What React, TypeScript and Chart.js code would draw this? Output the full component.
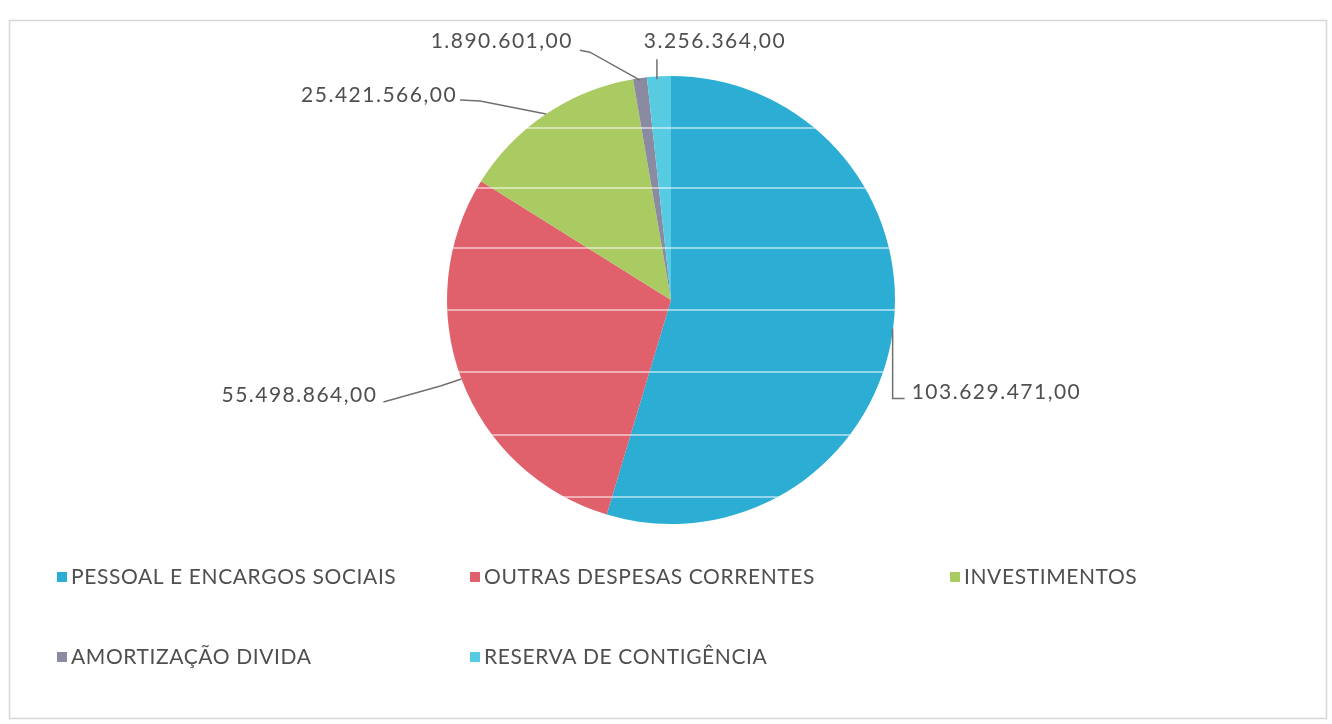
import React, { useEffect, useRef } from "react";
import { Chart, registerables } from "chart.js";

Chart.register(...registerables);

// ---- data ----
const categories = [
  "PESSOAL E ENCARGOS SOCIAIS",
  "OUTRAS DESPESAS CORRENTES",
  "INVESTIMENTOS",
  "AMORTIZAÇÃO DIVIDA",
  "RESERVA DE CONTIGÊNCIA",
];
const values = [103629471, 55498864, 25421566, 1890601, 3256364];
const colors = ["#2badd4", "#e0616c", "#a9cb62", "#8a8aa0", "#56cbe2"];

// ---- layout / style (not data) ----
const W = 1332;
const H = 724;
const FONT_FAMILY = "Lato, 'Open Sans', sans-serif";
const TEXT_COLOR = "#4f4f4f";
const LINE_COLOR = "#707070";

// leader-line points and text anchor, relative to the slice's outer edge at its mid-angle
const labelLayout: { pts: number[][]; text: number[]; align: CanvasTextAlign }[] = [
  { pts: [[0, -4], [0, 66], [12, 66]], text: [19, 60], align: "left" },
  { pts: [[0, 0], [-21, 7], [-78, 23]], text: [-84, 16], align: "right" },
  { pts: [[0, 0], [-66, -13], [-86, -14]], text: [-89, -19], align: "right" },
  { pts: [[0, 2], [-50, -26], [-60, -28]], text: [-67, -37], align: "right" },
  { pts: [[-2, 3], [-2, -17]], text: [56, -35], align: "center" },
];
const legendPos = [
  [57, 577],
  [470, 577],
  [950, 577],
  [57, 657],
  [470, 657],
];
const stripeOffsets = [-172, -112, -52, 10, 72, 135, 197];

function formatBR(v: number): string {
  const s = Math.round(v).toString();
  let out = "";
  for (let i = 0; i < s.length; i++) {
    if (i > 0 && (s.length - i) % 3 === 0) out += ".";
    out += s[i];
  }
  return out + ",00";
}

const framePlugin = {
  id: "frame",
  beforeDraw(chart: any) {
    const ctx = chart.ctx;
    ctx.save();
    ctx.fillStyle = "#ffffff";
    ctx.fillRect(0, 0, W, H);
    ctx.strokeStyle = "#d6d6d6";
    ctx.lineWidth = 1.5;
    ctx.strokeRect(9.5, 20.5, 1317, 698);
    ctx.restore();
  },
};

const stripePlugin = {
  id: "stripes",
  afterDatasetsDraw(chart: any) {
    const arc = chart.getDatasetMeta(0).data[0];
    if (!arc) return;
    const { x, y, outerRadius } = arc.getProps(["x", "y", "outerRadius"], true);
    const ctx = chart.ctx;
    ctx.save();
    ctx.beginPath();
    ctx.arc(x, y, outerRadius, 0, Math.PI * 2);
    ctx.clip();
    ctx.strokeStyle = "rgba(255,255,255,0.5)";
    ctx.lineWidth = 2;
    stripeOffsets.forEach((o) => {
      ctx.beginPath();
      ctx.moveTo(x - outerRadius, y + o);
      ctx.lineTo(x + outerRadius, y + o);
      ctx.stroke();
    });
    ctx.restore();
  },
};

const labelPlugin = {
  id: "valueLabels",
  afterDraw(chart: any) {
    const ctx = chart.ctx;
    const meta = chart.getDatasetMeta(0);
    const data = chart.data.datasets[0].data as number[];
    ctx.save();
    ctx.font = `21px ${FONT_FAMILY}`;
    (ctx as any).letterSpacing = "1.5px";
    ctx.textBaseline = "middle";
    meta.data.forEach((arc: any, i: number) => {
      const p = arc.getProps(["x", "y", "startAngle", "endAngle", "outerRadius"], true);
      const mid = (p.startAngle + p.endAngle) / 2;
      const ex = p.x + Math.cos(mid) * p.outerRadius;
      const ey = p.y + Math.sin(mid) * p.outerRadius;
      const lay = labelLayout[i];
      ctx.strokeStyle = LINE_COLOR;
      ctx.lineWidth = 1.5;
      ctx.beginPath();
      lay.pts.forEach((pt, k) => {
        if (k === 0) ctx.moveTo(ex + pt[0], ey + pt[1]);
        else ctx.lineTo(ex + pt[0], ey + pt[1]);
      });
      ctx.stroke();
      ctx.fillStyle = TEXT_COLOR;
      ctx.textAlign = lay.align;
      ctx.fillText(formatBR(data[i]), ex + lay.text[0], ey + lay.text[1]);
    });
    ctx.restore();
  },
};

const legendPlugin = {
  id: "gridLegend",
  afterDraw(chart: any) {
    const ctx = chart.ctx;
    const labels = chart.data.labels as string[];
    const bg = chart.data.datasets[0].backgroundColor as string[];
    ctx.save();
    ctx.font = `21px ${FONT_FAMILY}`;
    (ctx as any).letterSpacing = "0.6px";
    ctx.textBaseline = "middle";
    ctx.textAlign = "left";
    labels.forEach((lab, i) => {
      const [lx, ly] = legendPos[i];
      ctx.fillStyle = bg[i];
      ctx.fillRect(lx, ly - 5, 10, 10);
      ctx.fillStyle = TEXT_COLOR;
      ctx.fillText(lab, lx + 14, ly);
    });
    ctx.restore();
  },
};

export default function App() {
  const ref = useRef<HTMLCanvasElement | null>(null);
  useEffect(() => {
    if (!ref.current) return;
    const chart = new Chart(ref.current, {
      type: "pie",
      data: {
        labels: categories,
        datasets: [
          {
            data: values,
            backgroundColor: colors,
            borderWidth: 0,
          },
        ],
      },
      options: {
        animation: false,
        responsive: false,
        devicePixelRatio: 1,
        layout: { padding: { top: 76, bottom: 200, left: 200, right: 190 } },
        plugins: {
          legend: { display: false },
          tooltip: { enabled: false },
        },
      },
      plugins: [framePlugin, stripePlugin, labelPlugin, legendPlugin],
    });
    return () => chart.destroy();
  }, []);
  return (
    <div style={{ position: "absolute", left: 0, top: 0, width: W, height: H }}>
      <canvas ref={ref} width={W} height={H} style={{ display: "block" }} />
    </div>
  );
}
